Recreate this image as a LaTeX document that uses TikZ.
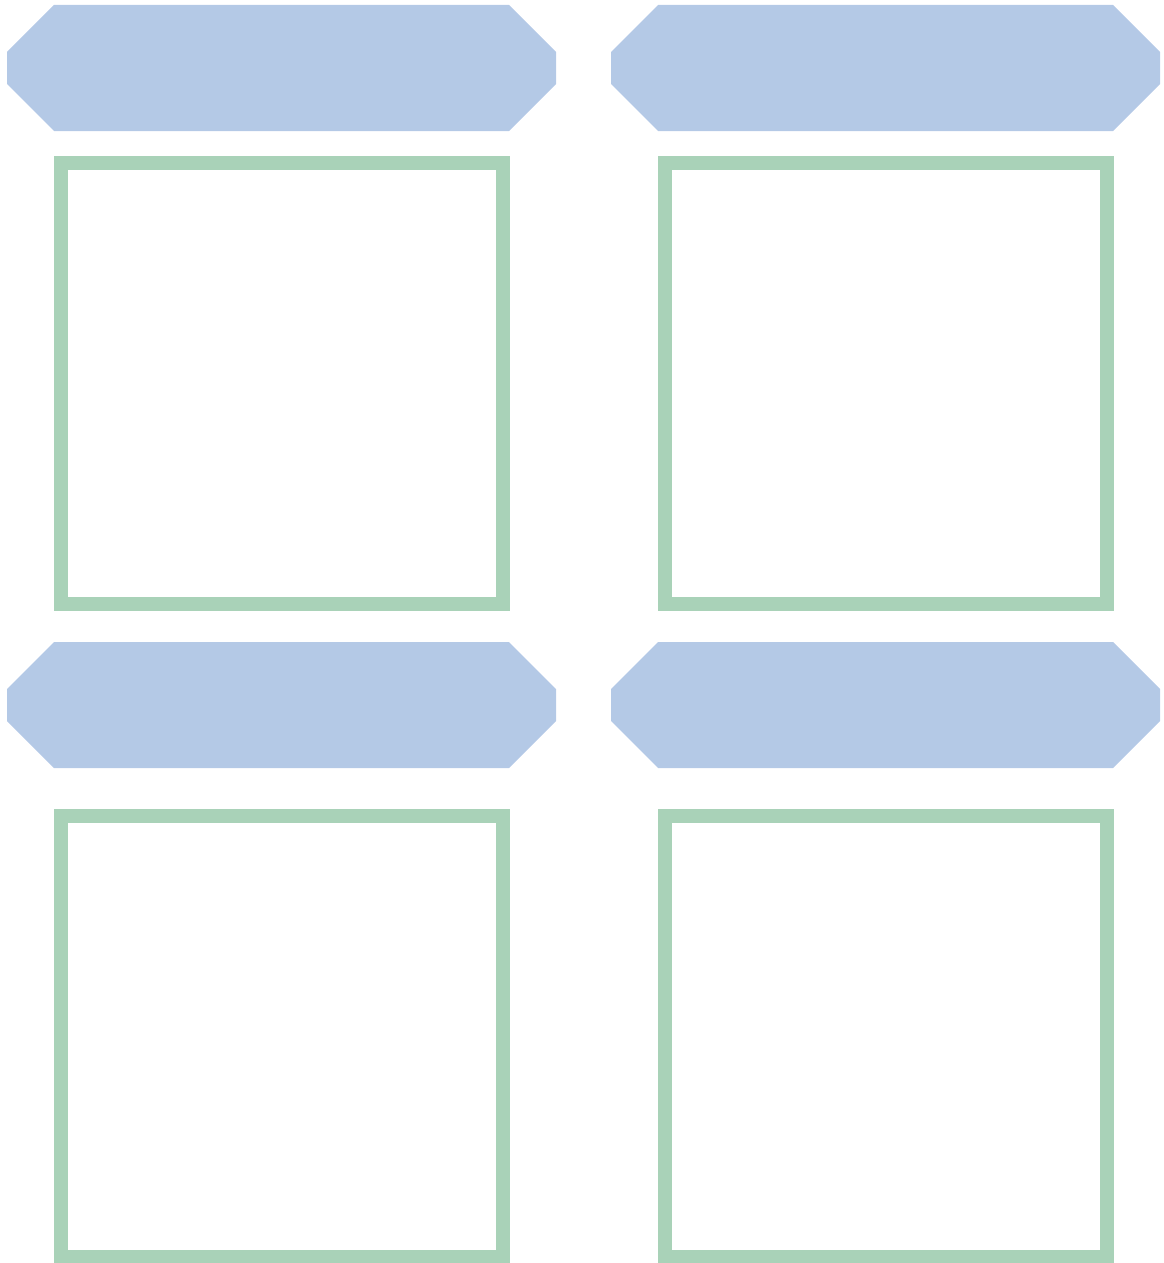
\documentclass[tikz,border=0pt]{standalone}
\usetikzlibrary{positioning}
\definecolor{headblue}{HTML}{B4C9E6}
\definecolor{framegreen}{HTML}{A9D2B8}
\tikzset{
	header/.style={rectangle, draw=none, inner sep=0pt, outer sep=0pt, minimum width=10.98cm, minimum height=2.52cm,
		path picture={
			\fill[headblue] ([xshift=0.94cm]path picture bounding box.north west) -- ([xshift=-0.94cm]path picture bounding box.north east)
				-- ([yshift=-0.94cm]path picture bounding box.north east) -- ([yshift=0.94cm]path picture bounding box.south east)
				-- ([xshift=-0.94cm]path picture bounding box.south east) -- ([xshift=0.94cm]path picture bounding box.south west)
				-- ([yshift=0.94cm]path picture bounding box.south west) -- ([yshift=-0.94cm]path picture bounding box.north west) -- cycle;
		}},
	panel/.style={rectangle, draw=framegreen, line width=0.28cm, minimum width=8.84cm, minimum height=8.82cm, inner sep=0pt}
}
\begin{document}
\begin{tikzpicture}
	\useasboundingbox (0,0) rectangle (23.26,-25.26);
	\node[header] (head1) at (5.63,-1.36) {};
	\node[header, right=1.1cm of head1] (head2) {};
	\node[panel, below=0.5cm of head1] (panel1) {};
	\node[panel, below=0.5cm of head2] (panel2) {};
	\node[header, below=0.62cm of panel1] (head3) {};
	\node[header, below=0.62cm of panel2] (head4) {};
	\node[panel, below=0.82cm of head3] (panel3) {};
	\node[panel, below=0.82cm of head4] (panel4) {};
\end{tikzpicture}
\end{document}
